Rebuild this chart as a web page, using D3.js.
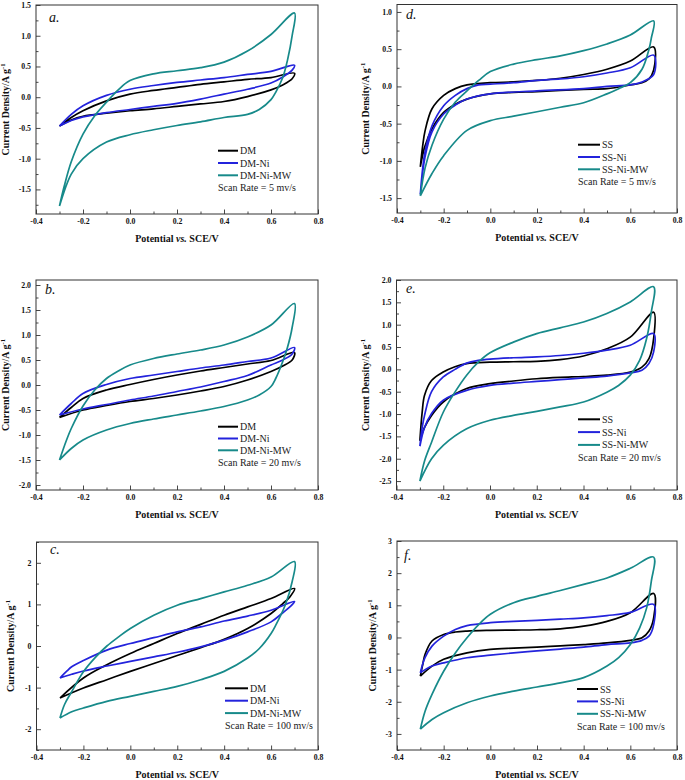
<!DOCTYPE html>
<html><head><meta charset="utf-8">
<script src="https://cdn.jsdelivr.net/npm/d3@7/dist/d3.min.js"></script>
<style>html,body{margin:0;padding:0;background:#fff}svg{display:block}</style>
</head><body>
<script>
// ---------------- DATA ----------------
const potentialTicks = [-0.4, -0.2, 0.0, 0.2, 0.4, 0.6, 0.8];
const potentialMinor = [-0.3, -0.1, 0.1, 0.3, 0.5, 0.7];
const ticksA = [-1.5, -1.0, -0.5, 0.0, 0.5, 1.0, 1.5];
const ticksB = [-2.0, -1.5, -1.0, -0.5, 0.0, 0.5, 1.0, 1.5, 2.0];
const ticksC = [-2, -1, 0, 1, 2];
const ticksD = [-1.5, -1.0, -0.5, 0.0, 0.5, 1.0];
const ticksE = [-2.5, -2.0, -1.5, -1.0, -0.5, 0.0, 0.5, 1.0, 1.5, 2.0];
const ticksF = [-3, -2, -1, 0, 1, 2, 3];
const seriesDM = ["DM", "DM-Ni", "DM-Ni-MW"];
const seriesSS = ["SS", "SS-Ni", "SS-Ni-MW"];
const scanRates = ["5", "20", "100"];

// Panel a: DM family, 5 mV/s  [potential V, current A/g]
const a_DM = [[-0.3,-0.47],[-0.25,-0.33],[-0.2,-0.22],[-0.1,-0.06],[0,0.05],[0.1,0.11],[0.2,0.16],[0.3,0.21],[0.4,0.25],[0.5,0.29],[0.6,0.32],[0.7,0.39],
  [0.69,0.3],[0.65,0.2],[0.6,0.12],[0.5,0.01],[0.4,-0.07],[0.3,-0.11],[0.2,-0.15],[0.1,-0.19],[0,-0.22],[-0.1,-0.26],[-0.2,-0.31],[-0.25,-0.37],[-0.3,-0.47]];
const a_Ni = [[-0.3,-0.47],[-0.25,-0.28],[-0.2,-0.14],[-0.1,0.03],[0,0.13],[0.1,0.19],[0.2,0.24],[0.3,0.28],[0.4,0.32],[0.5,0.37],[0.6,0.42],[0.7,0.52],
  [0.69,0.44],[0.65,0.33],[0.6,0.23],[0.5,0.13],[0.4,0.05],[0.3,-0.03],[0.2,-0.1],[0.1,-0.15],[0,-0.2],[-0.1,-0.25],[-0.2,-0.32],[-0.25,-0.38],[-0.3,-0.47]];
const a_MW = [[-0.3,-1.77],[-0.28,-1.45],[-0.25,-1.05],[-0.2,-0.6],[-0.15,-0.3],[-0.1,-0.08],[-0.05,0.12],[0,0.27],[0.1,0.38],[0.2,0.43],[0.3,0.48],[0.4,0.57],[0.5,0.75],[0.6,1.02],[0.7,1.37],
  [0.69,1.0],[0.67,0.6],[0.65,0.32],[0.62,0.08],[0.6,-0.04],[0.55,-0.2],[0.5,-0.28],[0.4,-0.33],[0.3,-0.4],[0.2,-0.46],[0.1,-0.53],[0,-0.61],[-0.1,-0.73],[-0.2,-1.0],[-0.25,-1.25],[-0.3,-1.77]];

// Panel b: DM family, 20 mV/s
const b_DM = [[-0.3,-0.65],[-0.25,-0.45],[-0.2,-0.27],[-0.1,-0.1],[0,0.01],[0.1,0.11],[0.2,0.2],[0.3,0.28],[0.4,0.35],[0.5,0.42],[0.6,0.49],[0.7,0.65],
  [0.69,0.5],[0.65,0.38],[0.6,0.27],[0.5,0.1],[0.4,-0.03],[0.3,-0.12],[0.2,-0.2],[0.1,-0.27],[0,-0.33],[-0.1,-0.41],[-0.2,-0.5],[-0.3,-0.65]];
const b_Ni = [[-0.3,-0.6],[-0.25,-0.37],[-0.2,-0.17],[-0.1,0.01],[0,0.13],[0.1,0.2],[0.2,0.27],[0.3,0.34],[0.4,0.4],[0.5,0.47],[0.6,0.54],[0.7,0.75],
  [0.69,0.62],[0.65,0.5],[0.6,0.4],[0.5,0.19],[0.4,0.07],[0.3,-0.04],[0.2,-0.13],[0.1,-0.22],[0,-0.3],[-0.1,-0.39],[-0.2,-0.48],[-0.3,-0.6]];
const b_MW = [[-0.3,-1.5],[-0.27,-1.1],[-0.25,-0.87],[-0.2,-0.42],[-0.15,-0.1],[-0.1,0.13],[-0.05,0.28],[0,0.4],[0.1,0.53],[0.2,0.62],[0.3,0.7],[0.4,0.8],[0.5,0.96],[0.6,1.2],[0.7,1.63],
  [0.69,1.15],[0.67,0.75],[0.65,0.47],[0.62,0.13],[0.6,-0.03],[0.55,-0.2],[0.5,-0.3],[0.4,-0.43],[0.3,-0.52],[0.2,-0.6],[0.1,-0.68],[0,-0.77],[-0.1,-0.9],[-0.2,-1.1],[-0.25,-1.27],[-0.3,-1.5]];

// Panel c: DM family, 100 mV/s
const c_DM = [[-0.3,-1.25],[-0.2,-0.77],[-0.1,-0.45],[0,-0.18],[0.1,0.06],[0.2,0.3],[0.3,0.52],[0.4,0.74],[0.5,0.94],[0.6,1.14],[0.7,1.38],
  [0.68,1.18],[0.65,1.02],[0.6,0.78],[0.5,0.42],[0.4,0.16],[0.3,-0.04],[0.2,-0.23],[0.1,-0.42],[0,-0.61],[-0.1,-0.81],[-0.2,-1.01],[-0.3,-1.25]];
const c_Ni = [[-0.3,-0.77],[-0.27,-0.6],[-0.25,-0.5],[-0.2,-0.35],[-0.1,-0.1],[0,0.06],[0.1,0.2],[0.2,0.34],[0.3,0.46],[0.4,0.6],[0.5,0.72],[0.6,0.86],[0.7,1.07],
  [0.68,0.94],[0.65,0.8],[0.6,0.58],[0.5,0.34],[0.4,0.14],[0.3,-0.02],[0.2,-0.15],[0.1,-0.26],[0,-0.37],[-0.1,-0.48],[-0.2,-0.6],[-0.25,-0.68],[-0.3,-0.77]];
const c_MW = [[-0.3,-1.73],[-0.28,-1.4],[-0.25,-1.1],[-0.2,-0.62],[-0.15,-0.28],[-0.1,0.0],[-0.05,0.22],[0,0.42],[0.1,0.74],[0.2,0.98],[0.3,1.14],[0.4,1.3],[0.5,1.46],[0.6,1.66],[0.7,2.03],
  [0.69,1.55],[0.66,0.98],[0.62,0.5],[0.6,0.3],[0.55,-0.06],[0.5,-0.29],[0.4,-0.61],[0.3,-0.81],[0.2,-0.97],[0.1,-1.09],[0,-1.21],[-0.1,-1.33],[-0.2,-1.49],[-0.25,-1.58],[-0.3,-1.73]];

// Panel d: SS family, 5 mV/s
const d_SS = [[-0.3,-1.08],[-0.29,-0.8],[-0.28,-0.6],[-0.25,-0.3],[-0.2,-0.12],[-0.15,-0.03],[-0.1,0.02],[0,0.05],[0.1,0.06],[0.2,0.08],[0.3,0.11],[0.4,0.16],[0.5,0.23],[0.6,0.34],[0.7,0.53],
  [0.7,0.22],[0.68,0.1],[0.65,0.05],[0.6,0.02],[0.5,-0.03],[0.4,-0.04],[0.2,-0.07],[0.1,-0.08],[0,-0.1],[-0.1,-0.17],[-0.15,-0.24],[-0.2,-0.35],[-0.25,-0.57],[-0.28,-0.8],[-0.3,-1.08]];
const d_Ni = [[-0.3,-1.45],[-0.29,-1.1],[-0.28,-0.88],[-0.25,-0.53],[-0.2,-0.26],[-0.15,-0.12],[-0.1,-0.03],[-0.05,0.02],[0,0.03],[0.1,0.05],[0.2,0.08],[0.3,0.1],[0.4,0.13],[0.5,0.18],[0.6,0.25],[0.7,0.42],
  [0.7,0.16],[0.65,0.06],[0.6,0.02],[0.5,0.0],[0.4,-0.03],[0.2,-0.06],[0,-0.1],[-0.1,-0.17],[-0.15,-0.25],[-0.2,-0.37],[-0.25,-0.61],[-0.28,-0.95],[-0.3,-1.45]];
const d_MW = [[-0.3,-1.47],[-0.28,-1.1],[-0.25,-0.79],[-0.2,-0.44],[-0.15,-0.21],[-0.1,-0.06],[-0.05,0.08],[0,0.2],[0.1,0.3],[0.2,0.36],[0.3,0.41],[0.4,0.48],[0.5,0.57],[0.6,0.69],[0.7,0.88],
  [0.69,0.65],[0.68,0.5],[0.65,0.23],[0.6,0.05],[0.55,-0.03],[0.5,-0.1],[0.4,-0.22],[0.3,-0.28],[0.2,-0.34],[0.1,-0.4],[0,-0.46],[-0.1,-0.59],[-0.2,-0.93],[-0.25,-1.17],[-0.3,-1.47]];

// Panel e: SS family, 20 mV/s
const e_SS = [[-0.3,-1.6],[-0.29,-0.95],[-0.28,-0.58],[-0.25,-0.25],[-0.2,-0.06],[-0.15,0.06],[-0.1,0.13],[0,0.16],[0.1,0.17],[0.2,0.18],[0.3,0.22],[0.4,0.3],[0.5,0.46],[0.6,0.72],[0.7,1.28],
  [0.7,0.69],[0.68,0.24],[0.65,0.05],[0.6,-0.06],[0.5,-0.13],[0.4,-0.16],[0.3,-0.18],[0.2,-0.21],[0.1,-0.26],[0,-0.32],[-0.1,-0.43],[-0.2,-0.73],[-0.25,-1.03],[-0.28,-1.3],[-0.3,-1.6]];
const e_Ni = [[-0.3,-1.72],[-0.29,-1.3],[-0.28,-1.03],[-0.25,-0.5],[-0.2,-0.17],[-0.15,0.0],[-0.1,0.14],[-0.05,0.2],[0,0.23],[0.1,0.26],[0.2,0.28],[0.3,0.31],[0.4,0.36],[0.5,0.43],[0.6,0.54],[0.7,0.8],
  [0.7,0.39],[0.68,0.13],[0.65,-0.02],[0.6,-0.08],[0.5,-0.15],[0.4,-0.19],[0.3,-0.23],[0.2,-0.27],[0.1,-0.31],[0,-0.36],[-0.1,-0.47],[-0.2,-0.69],[-0.25,-0.99],[-0.28,-1.3],[-0.3,-1.72]];
const e_MW = [[-0.3,-2.5],[-0.28,-2.05],[-0.25,-1.63],[-0.2,-0.96],[-0.15,-0.51],[-0.1,-0.13],[-0.05,0.16],[0,0.37],[0.1,0.61],[0.2,0.8],[0.3,0.93],[0.4,1.06],[0.5,1.25],[0.6,1.51],[0.7,1.85],
  [0.69,1.28],[0.67,0.69],[0.64,0.2],[0.6,-0.13],[0.55,-0.36],[0.5,-0.51],[0.4,-0.73],[0.3,-0.84],[0.2,-0.94],[0.1,-1.03],[0,-1.14],[-0.1,-1.33],[-0.2,-1.7],[-0.25,-2.0],[-0.3,-2.5]];

// Panel f: SS family, 100 mV/s
const f_SS = [[-0.3,-1.2],[-0.29,-0.85],[-0.28,-0.53],[-0.25,-0.11],[-0.2,0.09],[-0.15,0.17],[-0.1,0.2],[0,0.22],[0.1,0.23],[0.2,0.24],[0.3,0.27],[0.4,0.35],[0.5,0.5],[0.6,0.77],[0.7,1.37],
  [0.7,0.61],[0.68,0.2],[0.65,-0.01],[0.6,-0.09],[0.5,-0.17],[0.4,-0.22],[0.3,-0.26],[0.2,-0.3],[0.1,-0.33],[0,-0.37],[-0.1,-0.48],[-0.2,-0.68],[-0.25,-0.89],[-0.3,-1.2]];
const f_Ni = [[-0.3,-1.1],[-0.28,-0.63],[-0.25,-0.27],[-0.2,0.04],[-0.15,0.25],[-0.1,0.37],[0,0.46],[0.1,0.5],[0.2,0.53],[0.3,0.57],[0.4,0.61],[0.5,0.68],[0.6,0.78],[0.7,1.03],
  [0.7,0.4],[0.68,0.04],[0.65,-0.09],[0.6,-0.17],[0.5,-0.22],[0.4,-0.3],[0.3,-0.36],[0.2,-0.42],[0.1,-0.48],[0,-0.55],[-0.1,-0.63],[-0.2,-0.79],[-0.25,-0.89],[-0.3,-1.1]];
const f_MW = [[-0.3,-2.85],[-0.28,-2.3],[-0.25,-1.77],[-0.2,-1.05],[-0.15,-0.48],[-0.1,-0.01],[-0.05,0.4],[0,0.72],[0.1,1.08],[0.2,1.28],[0.3,1.46],[0.4,1.65],[0.5,1.85],[0.6,2.15],[0.7,2.5],
  [0.69,1.75],[0.67,0.92],[0.64,0.3],[0.6,-0.22],[0.55,-0.63],[0.5,-0.89],[0.4,-1.25],[0.3,-1.41],[0.2,-1.54],[0.1,-1.67],[0,-1.82],[-0.1,-2.03],[-0.2,-2.34],[-0.25,-2.55],[-0.3,-2.85]];

// ---------------- LAYOUT / STYLE ----------------
const colors = ["#000000", "#2323dc", "#178a8a"];
const W = 685, H = 780;
const panels = [
  {id:"a", L:36,  R:318, T:5,   B:214, yd:[-1.9,1.5], yt:ticksA, minorStep:0.25, fmt:1, data:[a_DM,a_Ni,a_MW], names:seriesDM, rate:0, lg:{x:218,y:150.7,dy:12.3,len:20}, lab:{x:49,y:22}, yt_x:9},
  {id:"d", L:397, R:677, T:4.5, B:213, yd:[-1.7,1.1], yt:ticksD, minorStep:0.25, fmt:1, data:[d_SS,d_Ni,d_MW], names:seriesSS, rate:0, lg:{x:578,y:144.7,dy:12.3,len:22}, lab:{x:406,y:19}, yt_x:369},
  {id:"b", L:36,  R:318, T:280, B:490, yd:[-2.1,2.1], yt:ticksB, minorStep:0.25, fmt:1, data:[b_DM,b_Ni,b_MW], names:seriesDM, rate:1, lg:{x:218,y:426.7,dy:11.8,len:20}, lab:{x:45,y:294}, yt_x:9},
  {id:"e", L:396.5, R:677, T:280, B:490, yd:[-2.7,2.0], yt:ticksE, minorStep:0.25, fmt:1, data:[e_SS,e_Ni,e_MW], names:seriesSS, rate:1, lg:{x:578,y:419.3,dy:12.8,len:22}, lab:{x:406,y:293}, yt_x:369},
  {id:"c", L:36.5,R:318, T:542, B:750, yd:[-2.5,2.5], yt:ticksC, minorStep:0.5, fmt:0, data:[c_DM,c_Ni,c_MW], names:seriesDM, rate:2, lg:{x:225,y:688.3,dy:12.4,len:23}, lab:{x:50,y:554}, yt_x:14},
  {id:"f", L:397, R:677, T:541, B:750, yd:[-3.5,3.0], yt:ticksF, minorStep:0.5, fmt:0, data:[f_SS,f_Ni,f_MW], names:seriesSS, rate:2, lg:{x:577,y:689,dy:12.4,len:21}, lab:{x:404,y:560}, yt_x:376}
];
const serif = "'Liberation Serif','Times New Roman',serif";
const fmtTick = (k) => (v) => (k ? d3.format(".1f")(v) : d3.format("d")(v)).replace("\u2212", "-");

const svg = d3.select("body").append("svg").attr("width", W).attr("height", H);

panels.forEach(p => {
  const x = d3.scaleLinear().domain([-0.4, 0.8]).range([p.L, p.R]);
  const y = d3.scaleLinear().domain(p.yd).range([p.B, p.T]);
  const g = svg.append("g");

  // curves
  const line = d3.line().x(d => x(d[0])).y(d => y(d[1])).curve(d3.curveCatmullRom.alpha(0.5));
  p.data.forEach((s, i) => {
    g.append("path").attr("d", line(s)).attr("fill", "none")
      .attr("stroke", colors[i]).attr("stroke-width", 1.7).attr("stroke-linejoin", "round");
  });

  // minor ticks
  const yMinor = d3.range(Math.ceil(p.yd[0] / p.minorStep) * p.minorStep, p.yd[1] + 1e-9, p.minorStep)
    .filter(v => !p.yt.some(t => Math.abs(t - v) < 1e-6));
  const mY = g.append("g").attr("transform", `translate(${p.L},0)`)
    .call(d3.axisLeft(y).tickValues(yMinor).tickSize(-2.5).tickFormat(""));
  const mX = g.append("g").attr("transform", `translate(0,${p.B})`)
    .call(d3.axisBottom(x).tickValues(potentialMinor).tickSize(-2.5).tickFormat(""));
  // major ticks
  const aY = g.append("g").attr("transform", `translate(${p.L},0)`)
    .call(d3.axisLeft(y).tickValues(p.yt).tickSizeInner(-4.5).tickSizeOuter(0).tickPadding(5).tickFormat(fmtTick(p.fmt)));
  const aX = g.append("g").attr("transform", `translate(0,${p.B})`)
    .call(d3.axisBottom(x).tickValues(potentialTicks).tickSizeInner(-4.5).tickSizeOuter(0).tickPadding(4).tickFormat(fmtTick(1)));
  [mY, mX, aY, aX].forEach(a => {
    a.select(".domain").remove();
    a.selectAll("line").attr("stroke", "#333").attr("stroke-width", 0.9);
    a.selectAll("text").attr("font-family", serif).attr("font-weight", "bold").attr("font-size", 7.8).attr("fill", "#111");
  });

  // frame
  g.append("rect").attr("x", p.L).attr("y", p.T).attr("width", p.R - p.L).attr("height", p.B - p.T)
    .attr("fill", "none").attr("stroke", "#333").attr("stroke-width", 1);

  // x title
  const xt = g.append("text").attr("x", (p.L + p.R) / 2).attr("y", p.B + 28)
    .attr("text-anchor", "middle").attr("font-family", serif).attr("font-weight", "bold")
    .attr("font-size", 10).attr("fill", "#111");
  xt.append("tspan").text("Potential ");
  xt.append("tspan").attr("font-style", "italic").text("vs.");
  xt.append("tspan").text(" SCE/V");

  // y title
  const cy = (p.T + p.B) / 2;
  const yt = g.append("text").attr("transform", `translate(${p.yt_x},${cy}) rotate(-90)`)
    .attr("text-anchor", "middle").attr("font-family", serif).attr("font-weight", "bold")
    .attr("font-size", 10).attr("fill", "#111");
  yt.append("tspan").text("Current Density/A g");
  yt.append("tspan").attr("font-size", 6.5).attr("dy", -4).text("-1");

  // panel label
  g.append("text").attr("x", p.lab.x).attr("y", p.lab.y).attr("font-family", serif)
    .attr("font-style", "italic").attr("font-size", 14).attr("fill", "#111").text(p.id + ".");

  // legend
  p.names.forEach((n, i) => {
    const ly = p.lg.y + i * p.lg.dy;
    g.append("line").attr("x1", p.lg.x).attr("x2", p.lg.x + p.lg.len).attr("y1", ly).attr("y2", ly)
      .attr("stroke", colors[i]).attr("stroke-width", 2);
    g.append("text").attr("x", p.lg.x + p.lg.len + 2).attr("y", ly).attr("dy", "0.35em")
      .attr("font-family", serif).attr("font-size", 10).attr("fill", "#222").text(n);
  });
  g.append("text").attr("x", p.lg.x).attr("y", p.lg.y + 3 * p.lg.dy).attr("dy", "0.35em")
    .attr("font-family", serif).attr("font-size", 10).attr("fill", "#222")
    .text(`Scan Rate = ${scanRates[p.rate]} mv/s`);
});
</script>
</body></html>
